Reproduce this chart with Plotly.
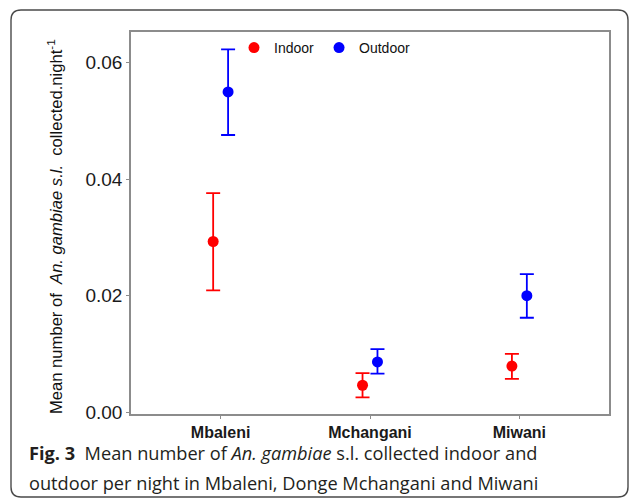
import plotly.graph_objects as go

# ---- data ----
sites = ["Mbaleni", "Mchangani", "Miwani"]
indoor_mean = [0.0293, 0.0046, 0.0079]
indoor_upper = [0.0376, 0.0067, 0.0100]
indoor_lower = [0.0209, 0.0025, 0.0057]
outdoor_mean = [0.0550, 0.0086, 0.0200]
outdoor_upper = [0.0623, 0.0108, 0.0237]
outdoor_lower = [0.0476, 0.0066, 0.0162]
y_ticks = [0.00, 0.02, 0.04, 0.06]

W, H = 629, 498
L, R, T, B = 131, 20, 32, 84
PW, PH = W - L - R, H - T - B

def px(x):
    return (x - L) / PW

def py(y):
    return (H - B - y) / PH

dodge = 0.05
xi = list(range(len(sites)))

fig = go.Figure()

def add_series(name, mean, upper, lower, color, off):
    fig.add_trace(go.Scatter(
        x=[i + off for i in xi], y=mean, mode="markers", name=name,
        marker=dict(color=color, size=11, symbol="circle"),
        error_y=dict(type="data", symmetric=False,
                     array=[u - m for u, m in zip(upper, mean)],
                     arrayminus=[m - l for m, l in zip(mean, lower)],
                     color=color, thickness=1.8, width=7),
    ))

add_series("Indoor", indoor_mean, indoor_upper, indoor_lower, "#FF0000", -dodge)
add_series("Outdoor", outdoor_mean, outdoor_upper, outdoor_lower, "#0000FF", dodge)

# outer rounded frame
x0, x1, y0, y1, r = 11, 628, 10, 497, 10
path = (f"M {px(x0+r)},{py(y0)} L {px(x1-r)},{py(y0)} Q {px(x1)},{py(y0)} {px(x1)},{py(y0+r)} "
        f"L {px(x1)},{py(y1-r)} Q {px(x1)},{py(y1)} {px(x1-r)},{py(y1)} "
        f"L {px(x0+r)},{py(y1)} Q {px(x0)},{py(y1)} {px(x0)},{py(y1-r)} "
        f"L {px(x0)},{py(y0+r)} Q {px(x0)},{py(y0)} {px(x0+r)},{py(y0)} Z")
fig.add_shape(type="path", path=path, xref="paper", yref="paper",
              line=dict(color="#4a4a4a", width=1.4), layer="below")

fig.add_annotation(
    text="Mean number of  <i>An. gambiae s.l.</i>  collected.night<sup>-1</sup>",
    xref="paper", yref="paper", x=px(55), y=py(227), textangle=-90,
    showarrow=False, xanchor="center", yanchor="middle",
    font=dict(family="Liberation Sans", size=16.6, color="#111111"))

cap_font = dict(family="Open Sans, Noto Sans, sans-serif", size=18.2, color="#231f20")
fig.add_annotation(
    text="<b>Fig. 3</b>  Mean number of <i>An. gambiae</i> s.l. collected indoor and",
    xref="paper", yref="paper", x=px(27), y=py(453), showarrow=False,
    xanchor="left", yanchor="middle", font=cap_font)
fig.add_annotation(
    text="outdoor per night in Mbaleni, Donge Mchangani and Miwani",
    xref="paper", yref="paper", x=px(27), y=py(483), showarrow=False,
    xanchor="left", yanchor="middle", font=cap_font)

fig.update_layout(
    width=W, height=H, margin=dict(l=L, r=R, t=T, b=B),
    paper_bgcolor="white", plot_bgcolor="white",
    showlegend=True,
    legend=dict(orientation="h", x=px(234), y=py(48), xanchor="left", yanchor="middle",
                font=dict(family="Liberation Sans, Arial", size=14, color="#111111"),
                bgcolor="rgba(0,0,0,0)", itemwidth=30, tracegroupgap=0),
    xaxis=dict(range=[-0.6, 2.6], tickvals=xi, ticktext=sites, showgrid=False, zeroline=False,
               showline=True, linecolor="#8c8c8c", linewidth=1.5, mirror=True,
               ticks="outside", ticklen=3, tickcolor="#8c8c8c",
               tickfont=dict(family="Liberation Sans, Arial", size=16, color="#1a1a1a", weight="bold")),
    yaxis=dict(range=[-0.00034, 0.0653], tickvals=y_ticks, ticktext=[f"{v:.2f}" for v in y_ticks],
               showgrid=False, zeroline=False,
               showline=True, linecolor="#8c8c8c", linewidth=1.5, mirror=True,
               ticks="outside", ticklen=3, tickcolor="#8c8c8c",
               tickfont=dict(family="Liberation Sans, Arial", size=19, color="#1a1a1a")),
)

fig.write_html("out.html")
